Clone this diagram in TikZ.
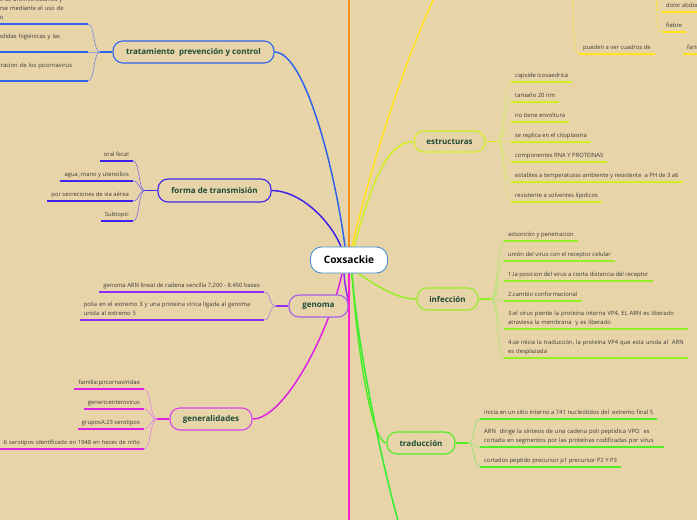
\documentclass[tikz,border=0pt]{standalone}
\usepackage{fontspec}
\setmainfont{Open Sans}
\pgfdeclarelayer{back}
\pgfdeclarelayer{lines}
\pgfsetlayers{back,lines,main}
\definecolor{bg}{HTML}{E8D4A9}
\definecolor{tgr}{HTML}{1D4B36}
\definecolor{ltxt}{HTML}{3A3A3A}
\definecolor{cblue}{HTML}{2E63EA}
\definecolor{cblueL}{HTML}{6F8FE6}
\definecolor{cind}{HTML}{3F22EC}
\definecolor{cindL}{HTML}{7D6BE6}
\definecolor{cpur}{HTML}{8E2CF4}
\definecolor{cpurB}{HTML}{A65FEA}
\definecolor{cpurL}{HTML}{B07EE4}
\definecolor{cmag}{HTML}{DE22E4}
\definecolor{cmagB}{HTML}{D545EA}
\definecolor{cmagL}{HTML}{E27DE6}
\definecolor{clime}{HTML}{CFEF22}
\definecolor{climeL}{HTML}{D6E86E}
\definecolor{cinf}{HTML}{96EE26}
\definecolor{cinfL}{HTML}{AEE86A}
\definecolor{ctra}{HTML}{52EC26}
\definecolor{ctraL}{HTML}{86E46A}
\definecolor{cyel}{HTML}{FFE21C}
\definecolor{cyelL}{HTML}{F2DC50}
\definecolor{cora}{HTML}{F7921E}
\definecolor{cpink}{HTML}{FF22CC}
\definecolor{cgrn}{HTML}{33EE33}
\definecolor{coxb}{HTML}{4A90CC}
\newcommand\dstrut{\rule[-1.4pt]{0pt}{1.4pt}}
\begin{document}
\begin{tikzpicture}[x=1pt,y=-1pt,
  coxnode/.style={draw=coxb, fill=white, line width=0.9pt, rounded corners=11pt,
    minimum width=77pt, minimum height=26pt, inner sep=0pt,
    font=\fontsize{10.2}{11}\selectfont\bfseries, text=black},
  topic/.style={draw=#1, fill=bg, line width=1.1pt, rounded corners=10pt,
    minimum height=22pt, inner sep=0pt, text=tgr,
    font=\fontsize{8}{9}\selectfont\bfseries},
  leafR/.style={anchor=south west, inner xsep=4pt, inner ysep=3.2pt, text=ltxt,
    font=\fontsize{5.85}{9}\selectfont, text depth=1.4pt},
  leafL/.style={leafR, anchor=south east},
  leafRm/.style={anchor=south west, inner xsep=4pt, inner ysep=3.2pt, text=ltxt,
    font=\fontsize{5.85}{9}\selectfont, align=left},
  leafLm/.style={leafRm, anchor=south east},
  mainline/.style={draw=#1, line width=1.5pt},
  stubline/.style={draw=#1, line width=1.5pt},
  brline/.style={draw=#1, line width=0.6pt},
  ul/.style={draw=#1, line width=1.8pt, line cap=butt}]

\begin{pgfonlayer}{back}
\fill[bg] (0,0) rectangle (697,520);
\end{pgfonlayer}
\useasboundingbox (0,0) rectangle (697,520);

% ---- central and topic nodes
\node[coxnode] (cox) at (349,260) {Coxsackie};
\node[topic=cblue, minimum width=161pt] (trat) at (193.5,52) {tratamiento\ \ prevención y control};
\node[topic=cind, minimum width=113pt, minimum height=23pt] (forma) at (214.5,190.5) {forma de transmisión};
\node[topic=cpurB, minimum width=59pt] (genoma) at (318.5,306) {genoma};
\node[topic=cmagB, minimum width=82pt] (gen) at (211,419) {generalidades};
\node[topic=clime, minimum width=71pt, minimum height=21pt] (estr) at (449.5,141.5) {estructuras};
\node[topic=cinf, minimum width=61pt] (infec) at (447.5,299) {infección};
\node[topic=ctra, minimum width=68pt] (trad) at (421,443) {traducción};

% ---- free ends
\coordinate (topO) at (349,-6);
\coordinate (topY) at (436,-6);
\coordinate (botP) at (349,526);
\coordinate (botG) at (400,528);

% junctions
\coordinate (jTr) at (100,52);
\coordinate (jF) at (145,190.5);
\coordinate (jG) at (276,306);
\coordinate (jGe) at (157,419);
\coordinate (jE) at (497,141.5);
\coordinate (jI) at (491,299);
\coordinate (jT) at (468,443);
\coordinate (jY1) at (656,-14);
\coordinate (jY2) at (572,-14);

% ---- leaves: tratamiento
\node[leafLm, text width=84pt] (t1) at (88,24) {s de antimicrobianos y\\rse mediante el uso de\\o\dstrut};
\node[leafLm, text width=85pt] (t2) at (88,52) {edidas higiénicas y las\\\dstrut};
\node[leafLm, text width=85pt] (t3) at (88,81) {tracion de los picornavirus\\\dstrut};
% forma
\node[leafL] (f1) at (133,161) {oral fecal};
\node[leafL] (f2) at (133,181) {agua ,mano y utensilios};
\node[leafL] (f3) at (133,201) {por secreciones de via aérea};
\node[leafL] (f4) at (133,221) {Subtopic};
% genoma
\node[leafL] (g1) at (264,292) {genoma ARN lineal de cadena sencilla 7,200 - 8.450 bases};
\node[leafLm, text width=176pt] (g2) at (264,320) {polia en el extremo 3 y una proteina virica ligada al genoma\\unida al extremo 5\dstrut};
% generalidades
\node[leafL] (ge1) at (144,389) {familia:pircornaviridae};
\node[leafL] (ge2) at (144,409) {genero:enterovirus};
\node[leafL] (ge3) at (144,429) {gruposA:23 serotipos};
\node[leafLm, align=right, text width=150pt, font=\fontsize{5.75}{9}\selectfont] (ge4) at (144,449) {:6 serotipos identificado en 1948 en heces de niño\dstrut};
% estructuras
\node[leafR] (e1) at (511,82) {capside icosaedrica};
\node[leafR] (e2) at (511,102) {tamaño 20 nm};
\node[leafR] (e3) at (511,122) {no tiene envoltura};
\node[leafR] (e4) at (511,142) {se replica en el citoplasma};
\node[leafR] (e5) at (511,162) {componentes RNA Y PROTEINAS};
\node[leafR] (e6) at (511,182) {estables a temperaturas ambiente y resistente\ \ a PH de 3 a6};
\node[leafR] (e7) at (511,202) {resistente a solventes lípidicos};
% infeccion
\node[leafR] (i1) at (504,241) {adsorción y penetracion};
\node[leafR] (i2) at (504,261) {unión del virus con el receptor celular};
\node[leafR] (i3) at (504,281) {1.la posicion del virus a cierta distancia del receptor};
\node[leafR] (i4) at (504,301) {2.cambio conformacional};
\node[leafRm, text width=176pt] (i5) at (504,329) {3.el virus pierde la proteina interna VP4, EL ARN es liberado\\atraviesa la membrana\ \ y es liberado\dstrut};
\node[leafRm, text width=176pt] (i6) at (504,358) {\mbox{4.se inicia la traducción, la proteina VP4 que esta unida al\ \ ARN}\\es desplazada\dstrut};
% traduccion
\node[leafR] (r1) at (480,419) {inicia en un sitio interno a 741 nucleótidos del\ \ extremo final 5};
\node[leafRm, text width=176pt] (r2) at (480,447) {ARN\ \ dirige la síntesis de una cadena poli peptidica VPO\ \ es\\cortada en segmentos por las proteínas codificadas por virus\dstrut};
\node[leafR] (r3) at (480,467) {cortados peptido precursor p1 precursor P2 Y P3};
% yellow top-right
\node[leafR] (y1) at (662,12) {dolor abdominal};
\node[leafR] (y2) at (662,32) {fiebre};
\node[leafR] (y3) at (579,54) {pueden a ver cuadros de};
\node[leafR] (y4) at (683,54) {faringitis};

\begin{pgfonlayer}{lines}
% main connectors
\draw[mainline=cblue] ([xshift=-4pt]cox.north) .. controls (335,170) and (305,52) .. (trat.east);
\draw[mainline=cind] ([xshift=-8pt]cox.north) .. controls (330,220) and (300,190.5) .. (forma.east);
\draw[mainline=cora] (cox.north) -- (topO);
\draw[mainline=cyel] ([xshift=3pt]cox.north) .. controls (370,170) and (402,66) .. (topY);
\draw[mainline=clime] ([xshift=5pt]cox.north) .. controls (370,190) and (385,141.5) .. (estr.west);
\draw[mainline=cpur] ([xshift=-5pt]cox.south) .. controls (345,290) and (349,300) .. (genoma.east);
\draw[mainline=cmag] ([xshift=-7pt]cox.south) .. controls (330,330) and (285,419) .. (gen.east);
\draw[mainline=cpink] (cox.south) -- (botP);
\draw[mainline=cgrn] ([xshift=3pt]cox.south) .. controls (357,340) and (378,450) .. (botG);
\draw[mainline=ctra] ([xshift=3pt]cox.south) .. controls (357,350) and (372,443) .. (trad.west);
\draw[mainline=cinf] ([xshift=9pt]cox.south) .. controls (375,284) and (395,299) .. (infec.west);
% stubs
\draw[stubline=cblue] (trat.west) -- (jTr);
\draw[stubline=cind] (forma.west) -- (jF);
\draw[stubline=cpur] (genoma.west) -- (jG);
\draw[stubline=cmag] (gen.west) -- (jGe);
\draw[stubline=clime] (estr.east) -- (jE);
\draw[stubline=cinf] (infec.east) -- (jI);
\draw[stubline=ctra] (trad.east) -- (jT);
% branches left
\foreach \n in {t1,t2,t3} \draw[brline=cblueL] (jTr) .. controls +(-7,0) and +(7,0) .. (\n.south east);
\foreach \n in {f1,f2,f3,f4} \draw[brline=cindL] (jF) .. controls +(-7,0) and +(7,0) .. (\n.south east);
\foreach \n in {g1,g2} \draw[brline=cpurL] (jG) .. controls +(-7,0) and +(7,0) .. (\n.south east);
\foreach \n in {ge1,ge2,ge3,ge4} \draw[brline=cmagL] (jGe) .. controls +(-7,0) and +(7,0) .. (\n.south east);
% branches right
\foreach \n in {e1,e2,e3,e4,e5,e6,e7} \draw[brline=climeL] (jE) .. controls +(8,0) and +(-8,0) .. (\n.south west);
\foreach \n in {i1,i2,i3,i4,i5,i6} \draw[brline=cinfL] (jI) .. controls +(7,0) and +(-7,0) .. (\n.south west);
\foreach \n in {r1,r2,r3} \draw[brline=ctraL] (jT) .. controls +(7,0) and +(-7,0) .. (\n.south west);
\draw[brline=cyelL] (jY1) .. controls (657,6) and (658,12) .. (y1.south west);
\draw[brline=cyelL] (jY1) .. controls (657,28) and (658,32) .. (y2.south west);
\draw[brline=cyelL] (jY2) .. controls (574,46) and (575,54) .. (y3.south west);
% underlines
\foreach \n in {t1,t2,t3} \draw[ul=cblue] (\n.south west) -- (\n.south east);
\foreach \n in {f1,f2,f3,f4} \draw[ul=cind] (\n.south west) -- (\n.south east);
\foreach \n in {g1,g2} \draw[ul=cpur] (\n.south west) -- (\n.south east);
\foreach \n in {ge1,ge2,ge3,ge4} \draw[ul=cmag] (\n.south west) -- (\n.south east);
\foreach \n in {e1,e2,e3,e4,e5,e6,e7} \draw[ul=clime] (\n.south west) -- (\n.south east);
\foreach \n in {i1,i2,i3,i4,i5,i6} \draw[ul=cinf] (\n.south west) -- (\n.south east);
\foreach \n in {r1,r2,r3} \draw[ul=ctra] (\n.south west) -- (\n.south east);
\foreach \n in {y1,y2,y3,y4} \draw[ul=cyel] (\n.south west) -- (\n.south east);
\end{pgfonlayer}
\end{tikzpicture}
\end{document}
